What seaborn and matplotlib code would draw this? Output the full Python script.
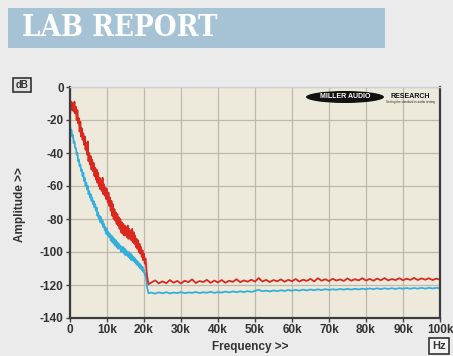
import numpy as np
import pandas as pd
import seaborn as sns
import matplotlib
matplotlib.use("Agg")
import matplotlib.pyplot as plt
from matplotlib.patches import Rectangle, Ellipse

# Noise spectrum, 0 - 20.8 kHz in 200 Hz steps (dB)
freq_low_khz = np.round(np.arange(105) * 0.2, 1)
red_low = [-17, -12, -9, -14, -10,
           -15, -9, -16, -12, -20,
           -14, -22, -19, -27, -21,
           -30, -25, -32, -28, -35,
           -30, -38, -34, -41, -33,
           -45, -40, -47, -42, -50,
           -44, -51, -46, -54, -49,
           -56, -50, -58, -52, -60,
           -55, -62, -57, -63, -55,
           -65, -59, -66, -61, -68,
           -62, -70, -64, -72, -67,
           -75, -69, -78, -71, -80,
           -74, -81, -76, -83, -77,
           -84, -79, -86, -80, -88,
           -82, -89, -83, -90, -84,
           -90, -85, -91, -84, -92,
           -86, -92, -87, -93, -86,
           -94, -88, -95, -90, -97,
           -92, -98, -93, -100, -95,
           -101, -97, -103, -99, -105,
           -101, -107, -104, -109, -114]
blue_low = [-23, -26, -26, -30, -29,
            -34, -33, -37, -37, -41,
            -40, -45, -44, -48, -47,
            -51, -50, -54, -52, -57,
            -55, -60, -58, -62, -60,
            -65, -63, -67, -65, -69,
            -67, -71, -69, -73, -71,
            -75, -73, -78, -76, -80,
            -78, -82, -79, -83, -81,
            -85, -83, -87, -85, -89,
            -86, -90, -88, -91, -89,
            -93, -90, -94, -91, -95,
            -92, -96, -93, -97, -94,
            -98, -95, -98, -96, -100,
            -97, -100, -97, -101, -98,
            -102, -99, -102, -100, -103,
            -100, -104, -101, -105, -102,
            -105, -103, -106, -104, -107,
            -105, -108, -106, -109, -107,
            -110, -108, -111, -109, -112,
            -111, -114, -113, -117, -121]

# Noise floor, 21.2 kHz then 22 - 100 kHz in 1 kHz steps (dB)
freq_high_khz = np.concatenate([[21.2], np.arange(22, 101, 1.0)])
red_high = [-119.5,
            -118.5, -117.2, -119.0, -117.8, -118.9, -117.0, -118.6, -117.5, -119.1, -117.4,
            -118.3, -116.6, -118.8, -117.6, -118.2, -116.9, -118.7, -117.3, -118.4, -117.0,
            -118.6, -117.4, -118.1, -116.5, -118.3, -117.2, -118.0, -116.8, -117.9, -115.8,
            -117.9, -116.9, -118.2, -117.0, -117.8, -116.6, -118.0, -116.9, -117.7, -116.4,
            -117.9, -116.8, -117.5, -116.3, -117.8, -115.9, -117.4, -116.5, -117.6, -116.2,
            -117.3, -116.6, -117.5, -116.0, -117.4, -116.5, -117.2, -115.9, -117.3, -116.3,
            -117.4, -116.1, -117.1, -115.8, -117.2, -116.4, -117.0, -115.9, -117.1, -116.2,
            -116.9, -115.7, -117.0, -116.0, -116.8, -115.9, -117.0, -116.1, -116.8]
blue_high = [-125,
             -124.6, -125.2, -124.5, -125.0, -124.4, -125.1, -124.6, -124.9, -124.3, -125.0,
             -124.5, -124.8, -124.2, -124.9, -124.4, -124.7, -124.1, -124.8, -124.3, -124.6,
             -124.0, -124.5, -123.9, -124.4, -123.8, -124.3, -123.7, -124.2, -123.6, -122.9,
             -123.8, -123.4, -123.9, -123.3, -123.7, -123.2, -123.6, -123.0, -123.5, -122.9,
             -123.4, -122.8, -123.3, -122.7, -123.2, -122.6, -123.1, -122.5, -123.0, -122.6,
             -122.9, -122.4, -122.8, -122.3, -122.8, -122.3, -122.7, -122.2, -122.6, -122.1,
             -122.5, -122.0, -122.5, -122.0, -122.4, -121.9, -122.4, -121.9, -122.3, -121.8,
             -122.3, -121.8, -122.2, -121.7, -122.2, -121.7, -122.1, -121.7, -122.0]

x_ticks = [0, 10000, 20000, 30000, 40000, 50000, 60000, 70000, 80000, 90000, 100000]
x_tick_labels = ["0", "10k", "20k", "30k", "40k", "50k", "60k", "70k", "80k", "90k", "100k"]
y_ticks = [0, -20, -40, -60, -80, -100, -120, -140]

freq_hz = np.concatenate([freq_low_khz, freq_high_khz]) * 1000.0
df = pd.concat([
    pd.DataFrame({"freq": freq_hz, "level": red_low + red_high, "channel": "red"}),
    pd.DataFrame({"freq": freq_hz, "level": blue_low + blue_high, "channel": "blue"}),
], ignore_index=True)

sns.set_theme(style="white")
plt.rcParams["font.family"] = ["Liberation Sans", "DejaVu Sans"]
plt.rcParams["axes.unicode_minus"] = False

W, H = 453, 356
fig = plt.figure(figsize=(W / 100, H / 100), dpi=100, facecolor="#ebebeb")

def fx(px):
    return px / W

def fy(py):
    return 1 - py / H

# Header banner
fig.patches.append(Rectangle((fx(8), fy(48)), fx(385) - fx(8), fy(8) - fy(48),
                             transform=fig.transFigure, facecolor="#a6c3d5",
                             edgecolor="none", zorder=0))
fig.text(fx(22), fy(28), "LAB REPORT", ha="left", va="center", color="white",
         fontsize=21, fontweight="heavy", family=["DejaVu Serif"], stretch="condensed")

ax = fig.add_axes([fx(70), fy(318), fx(440) - fx(70), fy(87) - fy(318)])
ax.set_facecolor("#eeeadb")

sns.lineplot(data=df, x="freq", y="level", hue="channel", hue_order=["blue", "red"],
             palette={"red": "#d9281f", "blue": "#35aedd"}, estimator=None,
             sort=False, linewidth=1.3, legend=False, ax=ax)

ax.set_xlim(0, 100000)
ax.set_ylim(-140, 0)
ax.set_xticks(x_ticks)
ax.set_xticklabels(x_tick_labels)
ax.set_yticks(y_ticks)
ax.grid(True, color="#bcb8ac", linewidth=0.9)
ax.set_axisbelow(True)
ax.tick_params(axis="both", which="both", length=3, width=1, color="#444444",
               labelsize=8.5, labelcolor="#333333", pad=1.5, direction="out",
               bottom=True, left=True)
for lab in ax.get_xticklabels() + ax.get_yticklabels():
    lab.set_fontweight("bold")
for side in ["left", "bottom", "right"]:
    ax.spines[side].set_color("#3c3c3c")
    ax.spines[side].set_linewidth(1.6)
ax.spines["top"].set_color("#cfcfcf")
ax.spines["top"].set_linewidth(1.0)

ax.set_xlabel("")
ax.set_ylabel("")
fig.text(fx(250), fy(347), "Frequency >>", ha="center", va="center",
         fontsize=8.5, fontweight="bold", color="#333333")
fig.text(fx(20), fy(205), "Amplitude >>", ha="center", va="center", rotation=90,
         fontsize=8.5, fontweight="bold", color="#333333")

# Unit boxes
fig.text(fx(22), fy(85), "dB", ha="center", va="center", fontsize=7, fontweight="bold",
         color="#333333",
         bbox=dict(boxstyle="square,pad=0.25", facecolor="#e2e2e2", edgecolor="#333333",
                   linewidth=1.2))
fig.text(fx(439), fy(346), "Hz", ha="center", va="center", fontsize=8, fontweight="bold",
         color="#333333",
         bbox=dict(boxstyle="square,pad=0.25", facecolor="#f4f4f4", edgecolor="#333333",
                   linewidth=1.2))

# Logo
fig.patches.append(Ellipse((fx(345), fy(97)), fx(78), 12 / H, transform=fig.transFigure,
                           facecolor="#111111", edgecolor="none", zorder=5))
fig.text(fx(345), fy(97), "MILLER AUDIO", ha="center", va="center", fontsize=5,
         fontweight="bold", color="white", zorder=6)
fig.text(fx(410), fy(96), "RESEARCH", ha="center", va="center", fontsize=5,
         fontweight="bold", color="#111111", zorder=6)
fig.text(fx(410), fy(102), "Setting the standard in audio testing", ha="center",
         va="center", fontsize=2.2, color="#222222", zorder=6)

fig.savefig("out.png", dpi=100, facecolor=fig.get_facecolor())
